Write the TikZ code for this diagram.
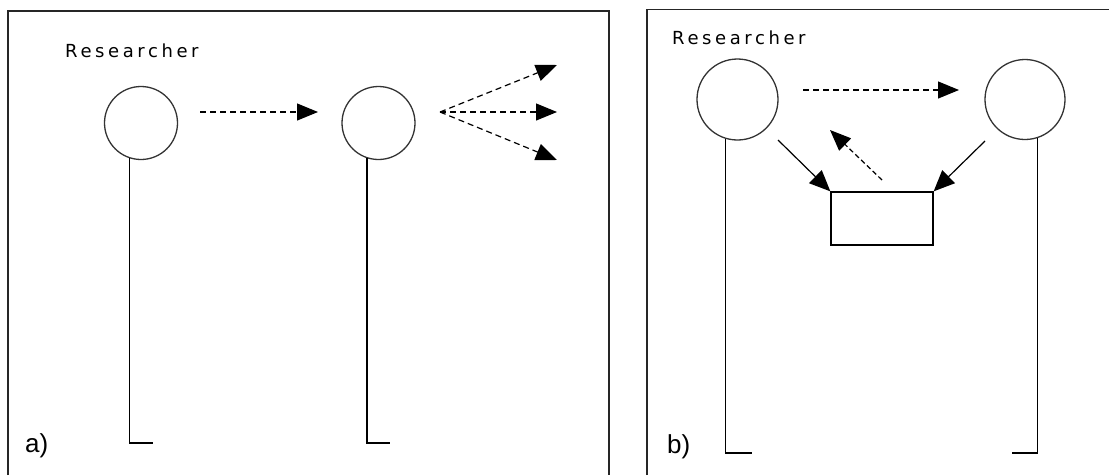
\documentclass[tikz,border=0pt]{standalone}
\usepackage{fontspec}
\setmainfont{Liberation Sans}
\newfontfamily\rolefont[LetterSpace=20]{DejaVu Sans}
\usetikzlibrary{arrows.meta}
\begin{document}
\begin{tikzpicture}[x=1pt,y=-1pt,
  frame/.style={line width=1.5pt, draw=black!85},
  person/.style={circle, draw=black!80, line width=1.3pt, inner sep=0pt},
  lifeline/.style={line width=1.3pt, draw=black},
  box/.style={rectangle, draw=black, line width=1.3pt, inner sep=0pt},
  msg/.style={line width=1.2pt, dash pattern=on 6pt off 4pt,
              -{Triangle[length=21pt,width=17pt]}},
  act/.style={line width=1.2pt, -{Triangle[length=21pt,width=18pt]}},
  role/.style={anchor=base west, inner sep=0pt, text=black,
               font=\rolefont\fontsize{18}{21}\selectfont},
  tag/.style={anchor=base west, inner sep=0pt,
              font=\fontsize{26}{30}\selectfont}]
\useasboundingbox (0,0) rectangle (1109,475);

% ---------- panel a ----------
\draw[frame] (8,475) -- (8,11) -- (609,11) -- (609,475);
\node[role] (ra) at (65,57) {Researcher};
\node[tag] (la) at (25,452) {a)};

\node[person, minimum size=73pt] (a1) at (141,123) {};
\node[person, minimum size=73pt] (a2) at (378.5,123) {};

\coordinate (a1foot) at (153,443);
\coordinate (a2foot) at (390,443);
\draw[lifeline] (a1.252) -- (a1.252 |- a1foot) -- (a1foot);
\draw[lifeline] (a2.252) -- (a2.252 |- a2foot) -- (a2foot);

\coordinate (m1s) at (200,112);
\coordinate (m1e) at (318,112);
\draw[msg] (m1s) -- (m1e);

\coordinate (fan) at (440,112);
\coordinate (fanT) at (557,65);
\coordinate (fanM) at (557,112);
\coordinate (fanB) at (557,160);
\draw[msg] (fan) -- (fanT);
\draw[msg] (fan) -- (fanM);
\draw[msg] (fan) -- (fanB);

% ---------- panel b ----------
\draw[frame] (647,475) -- (647,9.5) -- (1109,9.5);
\node[role] (rb) at (672,44) {Researcher};
\node[tag] (lb) at (667,453) {b)};

\node[person, minimum size=81pt] (b1) at (737.5,99.5) {};
\node[person, minimum size=80pt] (b2) at (1025,99.5) {};
\node[box, minimum width=102pt, minimum height=53pt] (doc) at (882,218.5) {};

\coordinate (b1foot) at (752,453);
\coordinate (b2foot) at (1012,453);
\draw[lifeline] (b1.253.5) -- (b1.253.5 |- b1foot) -- (b1foot);
\draw[lifeline] (b2.288.7) -- (b2.288.7 |- b2foot) -- (b2foot);

\coordinate (m2s) at (803,90);
\coordinate (m2e) at (959,90);
\draw[msg] (m2s) -- (m2e);

\coordinate (w1) at (778,140);
\coordinate (w2) at (985,141);
\draw[act] (w1) -- (doc.north west);
\draw[act] (w2) -- (doc.north east);

\coordinate (r1s) at (882,180);
\coordinate (r1e) at (830,130);
\draw[msg, dash pattern=on 5pt off 3pt] (r1s) -- (r1e);
\end{tikzpicture}
\end{document}
